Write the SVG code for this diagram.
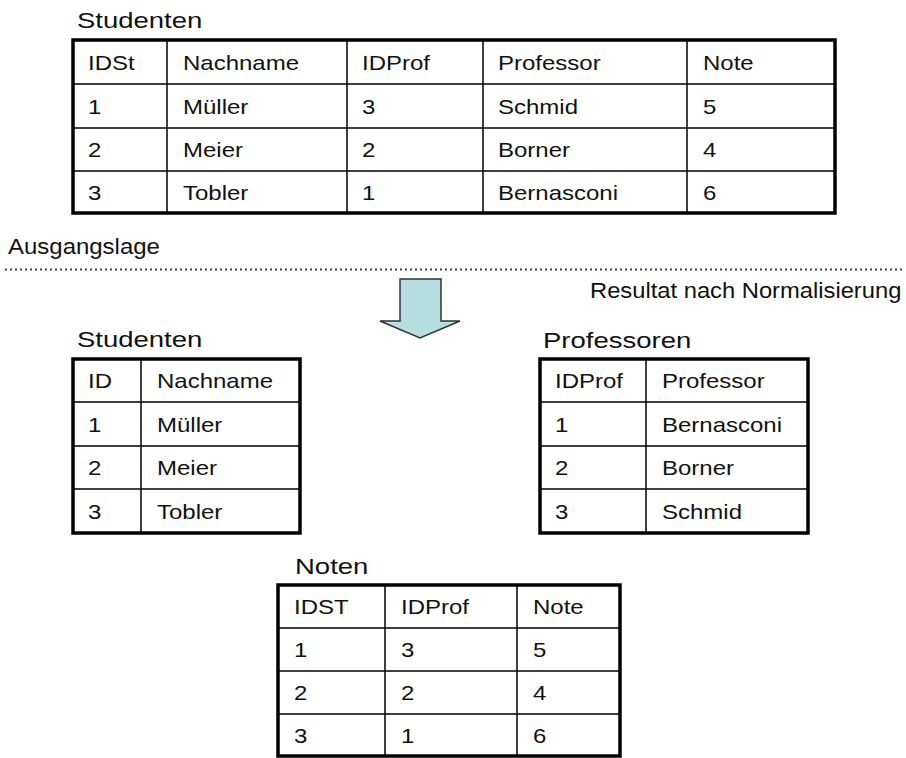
<svg xmlns="http://www.w3.org/2000/svg" width="906" height="758" viewBox="0 0 906 758">
<style>
text{font-family:"Liberation Sans",Arial,sans-serif;fill:#111}
.c{font-size:20px}
.t{font-size:22px}
.l{font-size:22px}
.outer{fill:#fff;stroke:#000;stroke-width:3.5}
.grid{stroke:#000;stroke-width:1.5;fill:none}
</style>
<rect width="906" height="758" fill="#fff"/>

<text class="l" transform="translate(8,254) scale(1.09,1)">Ausgangslage</text>
<line x1="5" y1="269.5" x2="904" y2="269.5" stroke="#444" stroke-width="2" stroke-dasharray="2 3"/>
<text class="l" transform="translate(590,298) scale(1.08,1)">Resultat nach Normalisierung</text>

<g id="arrow">
<polygon points="400,279 441,279 441,321 460,321 420,338 380,321 400,321" fill="#b7dfe1" stroke="#333" stroke-width="1.5" stroke-linejoin="miter"/>
</g>

<g id="studenten-alt">
<text class="t" transform="translate(77,28) scale(1.25,1)">Studenten</text>
<rect class="outer" x="73" y="40" width="762" height="173"/>
<path class="grid" d="M167 40V213M347 40V213M483 40V213M687 40V213M73 84H835M73 128H835M73 171H835"/>
<g class="c">
<text class="c" transform="translate(88,69.5) scale(1.2,1)">IDSt</text>
<text class="c" transform="translate(183,69.5) scale(1.2,1)">Nachname</text>
<text class="c" transform="translate(362,69.5) scale(1.2,1)">IDProf</text>
<text class="c" transform="translate(498,69.5) scale(1.2,1)">Professor</text>
<text class="c" transform="translate(703,69.5) scale(1.2,1)">Note</text>
<text class="c" transform="translate(88,113.5) scale(1.2,1)">1</text>
<text class="c" transform="translate(183,113.5) scale(1.2,1)">Müller</text>
<text class="c" transform="translate(362,113.5) scale(1.2,1)">3</text>
<text class="c" transform="translate(498,113.5) scale(1.2,1)">Schmid</text>
<text class="c" transform="translate(703,113.5) scale(1.2,1)">5</text>
<text class="c" transform="translate(88,157) scale(1.2,1)">2</text>
<text class="c" transform="translate(183,157) scale(1.2,1)">Meier</text>
<text class="c" transform="translate(362,157) scale(1.2,1)">2</text>
<text class="c" transform="translate(498,157) scale(1.2,1)">Borner</text>
<text class="c" transform="translate(703,157) scale(1.2,1)">4</text>
<text class="c" transform="translate(88,199.5) scale(1.2,1)">3</text>
<text class="c" transform="translate(183,199.5) scale(1.2,1)">Tobler</text>
<text class="c" transform="translate(362,199.5) scale(1.2,1)">1</text>
<text class="c" transform="translate(498,199.5) scale(1.2,1)">Bernasconi</text>
<text class="c" transform="translate(703,199.5) scale(1.2,1)">6</text>
</g>
</g>

<g id="studenten">
<text class="t" transform="translate(77,347) scale(1.25,1)">Studenten</text>
<rect class="outer" x="73" y="359" width="227" height="174"/>
<path class="grid" d="M141 359V533M73 402H300M73 446H300M73 489H300"/>
<text class="c" transform="translate(88,388) scale(1.2,1)">ID</text>
<text class="c" transform="translate(157,388) scale(1.2,1)">Nachname</text>
<text class="c" transform="translate(88,431.5) scale(1.2,1)">1</text>
<text class="c" transform="translate(157,431.5) scale(1.2,1)">Müller</text>
<text class="c" transform="translate(88,475) scale(1.2,1)">2</text>
<text class="c" transform="translate(157,475) scale(1.2,1)">Meier</text>
<text class="c" transform="translate(88,518.5) scale(1.2,1)">3</text>
<text class="c" transform="translate(157,518.5) scale(1.2,1)">Tobler</text>
</g>

<g id="professoren">
<text class="t" transform="translate(543,348) scale(1.25,1)">Professoren</text>
<rect class="outer" x="540" y="359" width="268" height="174"/>
<path class="grid" d="M646 359V533M540 402H808M540 446H808M540 489H808"/>
<text class="c" transform="translate(555,388) scale(1.2,1)">IDProf</text>
<text class="c" transform="translate(662,388) scale(1.2,1)">Professor</text>
<text class="c" transform="translate(555,431.5) scale(1.2,1)">1</text>
<text class="c" transform="translate(662,431.5) scale(1.2,1)">Bernasconi</text>
<text class="c" transform="translate(555,475) scale(1.2,1)">2</text>
<text class="c" transform="translate(662,475) scale(1.2,1)">Borner</text>
<text class="c" transform="translate(555,518.5) scale(1.2,1)">3</text>
<text class="c" transform="translate(662,518.5) scale(1.2,1)">Schmid</text>
</g>

<g id="noten">
<text class="t" transform="translate(295,574) scale(1.25,1)">Noten</text>
<rect class="outer" x="278" y="585" width="342" height="171"/>
<path class="grid" d="M385 585V756M517 585V756M278 628H620M278 671H620M278 714H620"/>
<text class="c" transform="translate(294,614) scale(1.2,1)">IDST</text>
<text class="c" transform="translate(401,614) scale(1.2,1)">IDProf</text>
<text class="c" transform="translate(533,614) scale(1.2,1)">Note</text>
<text class="c" transform="translate(294,657) scale(1.2,1)">1</text>
<text class="c" transform="translate(401,657) scale(1.2,1)">3</text>
<text class="c" transform="translate(533,657) scale(1.2,1)">5</text>
<text class="c" transform="translate(294,700) scale(1.2,1)">2</text>
<text class="c" transform="translate(401,700) scale(1.2,1)">2</text>
<text class="c" transform="translate(533,700) scale(1.2,1)">4</text>
<text class="c" transform="translate(294,742.5) scale(1.2,1)">3</text>
<text class="c" transform="translate(401,742.5) scale(1.2,1)">1</text>
<text class="c" transform="translate(533,742.5) scale(1.2,1)">6</text>
</g>
</svg>
